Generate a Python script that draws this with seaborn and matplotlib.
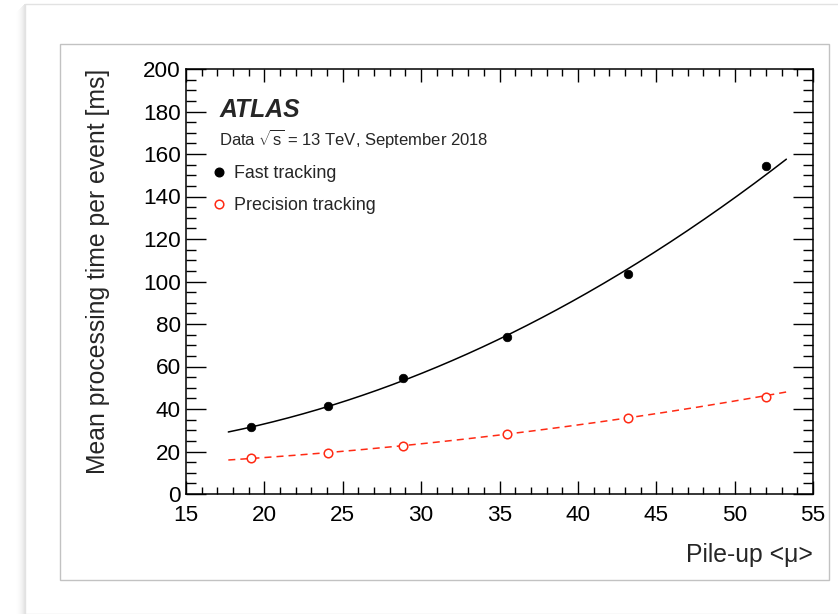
import numpy as np
import pandas as pd
import matplotlib
matplotlib.use("Agg")
import matplotlib.pyplot as plt
from matplotlib.patches import Rectangle
from matplotlib.lines import Line2D
from matplotlib.ticker import MultipleLocator
import seaborn as sns

# Mean trigger tracking time per event versus pile-up
pileup = [19.15, 24.07, 28.87, 35.51, 43.18, 52.0]
fast_ms = [31.5, 41.4, 54.6, 73.9, 103.5, 154.4]
precision_ms = [16.9, 19.3, 22.6, 28.2, 35.8, 45.6]

# second-order polynomial fit parameters (p2, p1, p0) and fitted range
fast_fit = [0.0588, -0.569, 20.84]
precision_fit = [0.0120, 0.047, 11.41]
fit_range = (17.7, 53.3)

x_ticks = [15, 20, 25, 30, 35, 40, 45, 50, 55]
y_ticks = [0, 20, 40, 60, 80, 100, 120, 140, 160, 180, 200]

series_labels = ["Fast tracking", "Precision tracking"]
red = "#ff2a14"

sns.set_theme(style="ticks")
plt.rcParams["font.family"] = ["Liberation Sans", "DejaVu Sans"]
plt.rcParams["mathtext.fontset"] = "custom"
plt.rcParams["mathtext.rm"] = "Liberation Sans"
plt.rcParams["mathtext.it"] = "Liberation Sans:italic"
plt.rcParams["mathtext.bf"] = "Liberation Sans:bold"

W, H = 838, 614
fig = plt.figure(figsize=(W / 100, H / 100), dpi=100)
fig.patch.set_facecolor("white")


def fx(px):
    return px / W


def fy(py):
    return 1 - py / H


# page card with a soft shadow on its left edge
for i in range(10):
    a = 0.10 * (1 - i / 10) ** 2
    fig.add_artist(Rectangle((fx(25 - i - 1), 0), fx(1), fy(4 + i),
                             transform=fig.transFigure, facecolor="black",
                             edgecolor="none", alpha=a, zorder=0))
fig.add_artist(Rectangle((fx(25), 0), fx(W - 25 + 5), fy(4),
                         transform=fig.transFigure, facecolor="white",
                         edgecolor="#e2e2e2", lw=1, zorder=0.5))
# frame around the canvas
fig.add_artist(Rectangle((fx(60), fy(580)), fx(829) - fx(60), fy(44) - fy(580),
                         transform=fig.transFigure, facecolor="white",
                         edgecolor="#c2c2c2", lw=1, zorder=0.6))

ax = fig.add_axes([fx(186), fy(494), fx(813) - fx(186), fy(69) - fy(494)])
ax.set_zorder(2)
ax.set_facecolor("white")

df = pd.DataFrame({"mu": pileup, "fast": fast_ms, "precision": precision_ms})

grid = np.linspace(fit_range[0], fit_range[1], 300)
fit_df = pd.DataFrame({
    "mu": grid,
    "fast": np.polyval(fast_fit, grid),
    "precision": np.polyval(precision_fit, grid),
})

sns.lineplot(data=fit_df, x="mu", y="fast", ax=ax, color="black", lw=1.1,
             zorder=3, legend=False)
sns.lineplot(data=fit_df, x="mu", y="precision", ax=ax, color=red, lw=1.1,
             dashes=False, zorder=3, legend=False)
ax.lines[-1].set_linestyle((0, (4.6, 3.3)))

sns.scatterplot(data=df, x="mu", y="fast", ax=ax, color="black", s=38,
                edgecolor="black", linewidth=0.5, zorder=4, legend=False)
sns.scatterplot(data=df, x="mu", y="precision", ax=ax, s=38, marker="o",
                zorder=4, legend=False)
pc = ax.collections[-1]
pc.set_facecolor("white")
pc.set_edgecolor(red)
pc.set_linewidth(1.1)

ax.set_xlim(x_ticks[0], x_ticks[-1])
ax.set_ylim(y_ticks[0], y_ticks[-1])
ax.set_xticks(x_ticks)
ax.set_yticks(y_ticks)
ax.xaxis.set_minor_locator(MultipleLocator(1))
ax.yaxis.set_minor_locator(MultipleLocator(5))

for s in ax.spines.values():
    s.set_linewidth(1.1)
    s.set_color("black")

ax.tick_params(which="both", direction="in", top=True, right=True,
               color="black", width=1.0, labelsize=16.2, labelcolor="black")
ax.tick_params(axis="x", which="major", length=9.4, pad=8)
ax.tick_params(axis="x", which="minor", length=5)
ax.tick_params(axis="y", which="major", length=14.4, pad=3.6)
ax.tick_params(axis="y", which="minor", length=7.2)

ax.set_xlabel("Pile-up <\u03bc>", fontsize=17.8, loc="right")
ax.set_ylabel("Mean processing time per event [ms]", fontsize=17.8, loc="top")
ax.xaxis.set_label_coords(1.0, -0.115)
ax.yaxis.set_label_coords(-0.122, 1.0)

ax.text(0.0542, 0.9035, "ATLAS", transform=ax.transAxes, fontsize=17.8,
        fontweight="bold", fontstyle="italic", va="center", ha="left")
ax.text(0.0526, 0.8376, r"Data $\sqrt{\mathregular{s}}$ = 13 TeV, September 2018",
        transform=ax.transAxes, fontsize=12.0, va="center", ha="left")

handles = [
    Line2D([], [], linestyle="none", marker="o", markersize=6.2,
           markerfacecolor="black", markeredgecolor="black"),
    Line2D([], [], linestyle="none", marker="o", markersize=6.2,
           markerfacecolor="white", markeredgecolor=red, markeredgewidth=1.1),
]
ax.legend(handles, series_labels, loc="upper left",
          bbox_to_anchor=((211.8 - 186) / 627, (494 - 165) / 425),
          frameon=False, fontsize=12.9, handlelength=0.8, handletextpad=0.44,
          labelspacing=0.86, borderpad=0, borderaxespad=0)

fig.savefig("out.png", dpi=100, facecolor="white")
